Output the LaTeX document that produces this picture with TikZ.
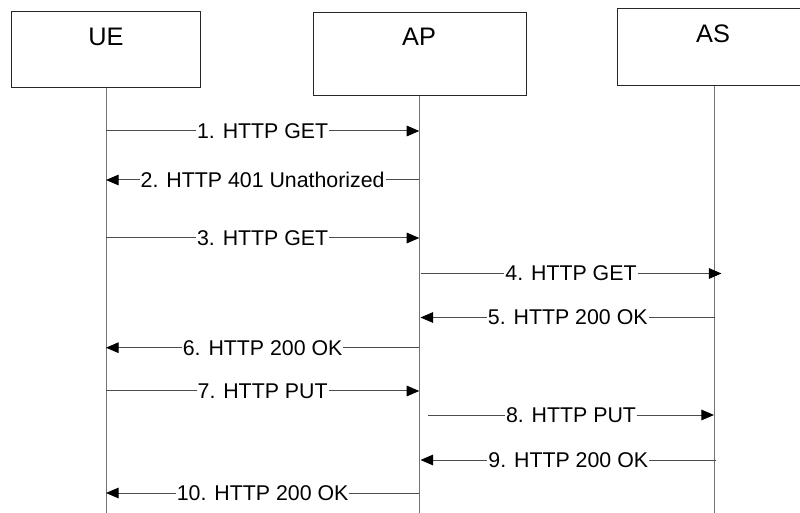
\documentclass[tikz,border=0pt]{standalone}
\usepackage{fontspec}
\setmainfont{Liberation Sans}
\usetikzlibrary{arrows.meta}
\tikzset{
  entity/.style={draw=black!85, line width=0.75pt, fill=white, inner sep=0pt},
  entitytext/.style={font=\fontsize{19}{22}\selectfont, inner sep=0pt},
  lifeline/.style={draw=black!55, line width=0.75pt},
  msg/.style={draw=black!70, line width=0.75pt, -{Triangle[length=9.5pt,width=8pt,color=black]}},
  msglabel/.style={fill=white, inner sep=0.7pt, font=\fontsize{16}{19}\selectfont, text=black},
}
\begin{document}
\begin{tikzpicture}[x=0.75pt,y=-0.75pt]
\useasboundingbox (0,0) rectangle (800,513);
\clip (0,0) rectangle (800,513);
% entity boxes
\node[entity, minimum width=141.75pt, minimum height=56.7pt] (ue) at (106.2,49.5) {};
\node[entity, minimum width=160.2pt, minimum height=62.55pt] (ap) at (420,54) {};
\node[entity, minimum width=144pt, minimum height=57.75pt] (as) at (713,47.2) {};
\node[entitytext] (uet) at (106,37) {UE};
\node[entitytext] (apt) at (419,36.7) {AP};
\node[entitytext] (ast) at (713,34.2) {AS};
% lifeline ends
\coordinate (ueend) at (106,513);
\coordinate (apend) at (419.3,513);
\coordinate (asend) at (714,513);
\draw[lifeline] (ue.south -| ueend) -- (ueend);
\draw[lifeline] (ap.south -| apend) -- (apend);
\draw[lifeline] (as.south -| asend) -- (asend);
% message end points
\coordinate (ue1) at (106,131);   \coordinate (ap1) at (419.3,131);
\coordinate (ue2) at (106,180);   \coordinate (ap2) at (419.3,180);
\coordinate (ue3) at (106,238);   \coordinate (ap3) at (419.3,238);
\coordinate (ap4) at (420.5,273.5); \coordinate (as4) at (721.5,273.5);
\coordinate (ap5) at (420.5,317.5); \coordinate (as5) at (715,317.5);
\coordinate (ue6) at (106,347.7); \coordinate (ap6) at (419.3,347.7);
\coordinate (ue7) at (106,391);   \coordinate (ap7) at (419.3,391);
\coordinate (ap8) at (428,415);   \coordinate (as8) at (714,415);
\coordinate (ap9) at (420.5,460); \coordinate (as9) at (716,460);
\coordinate (ue10) at (106,493);  \coordinate (ap10) at (419.3,493);
% messages
\draw[msg] (ue1) -- node[msglabel] {1. HTTP GET} (ap1);
\draw[msg] (ap2) -- node[msglabel] {2. HTTP 401 Unathorized} (ue2);
\draw[msg] (ue3) -- node[msglabel] {3. HTTP GET} (ap3);
\draw[msg] (ap4) -- node[msglabel] {4. HTTP GET} (as4);
\draw[msg] (as5) -- node[msglabel] {5. HTTP 200 OK} (ap5);
\draw[msg] (ap6) -- node[msglabel] {6. HTTP 200 OK} (ue6);
\draw[msg] (ue7) -- node[msglabel] {7. HTTP PUT} (ap7);
\draw[msg] (ap8) -- node[msglabel] {8. HTTP PUT} (as8);
\draw[msg] (as9) -- node[msglabel] {9. HTTP 200 OK} (ap9);
\draw[msg] (ap10) -- node[msglabel] {10. HTTP 200 OK} (ue10);
\end{tikzpicture}
\end{document}
